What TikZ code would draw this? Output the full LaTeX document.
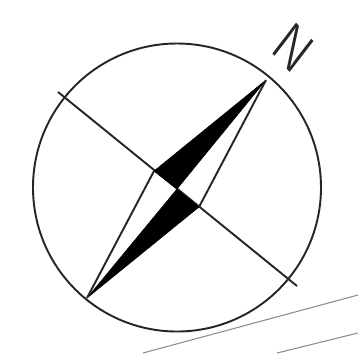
\documentclass[tikz,border=0pt]{standalone}
\usepackage{fontspec}
\newfontfamily\northfont{Fira Sans Light}
\begin{document}
\begin{tikzpicture}[
            x=0.02cm, y=-0.02cm,
            rim/.style={line width=1.1pt, black!85},
            ground/.style={line width=0.6pt, black!45},
            point/.style={fill=black, draw=black, line width=0.3pt, line join=round}
        ]
        \useasboundingbox (0,0) rectangle (358,353);

        % 罗盘外圈和横线
        \coordinate (O) at (177,187.5);
        \draw[rim] (O) circle (144);
        \draw[rim] (58,92) -- (297,286);

        % 指针的四个顶点
        \coordinate (T) at (266,80);
        \coordinate (S) at (87,298);
        \coordinate (W) at (154,171);
        \coordinate (E) at (199,207);
        \coordinate (C) at (177,189);
        \fill[point] (T) -- (W) -- (C) -- cycle;
        \fill[point] (S) -- (E) -- (C) -- cycle;
        \draw[rim] (T) -- (E);
        \draw[rim] (S) -- (W);

        % 字母
        \node[rotate=-46.6, xslant=-0.16, inner sep=0pt, black!85] (north) at (293,48) {\northfont\fontsize{32}{32}\selectfont N};

        % 底部两条斜线
        \draw[ground] (143,353) -- (358,295);
        \draw[ground] (277,353) -- (358,333);
    \end{tikzpicture}
\end{document}
